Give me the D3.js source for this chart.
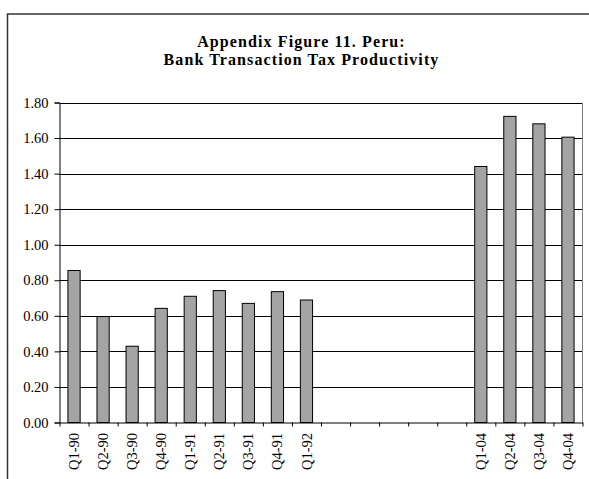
<!DOCTYPE html>
<html>
<head>
<meta charset="utf-8">
<script src="https://cdn.jsdelivr.net/npm/d3@7"></script>
<style>
  body { margin: 0; background: #fff; }
  text { font-family: "Liberation Serif", "Times New Roman", serif; fill: #000; }
</style>
</head>
<body>
<svg width="589" height="479"></svg>
<script>
// quarters, with empty slots for the years that have no data
var categories = ["Q1-90", "Q2-90", "Q3-90", "Q4-90", "Q1-91", "Q2-91", "Q3-91", "Q4-91", "Q1-92",
    "", "", "", "", "",
    "Q1-04", "Q2-04", "Q3-04", "Q4-04"];
var values = [0.855, 0.596, 0.429, 0.642, 0.710, 0.742, 0.670, 0.736, 0.689,
    null, null, null, null, null,
    1.440, 1.722, 1.680, 1.605];
var yTicks = [0, 0.2, 0.4, 0.6, 0.8, 1.0, 1.2, 1.4, 1.6, 1.8];
var titleLines = ["Appendix Figure 11. Peru:", "Bank Transaction Tax Productivity"];

var svg = d3.select("svg"),
    width = +svg.attr("width"),
    height = +svg.attr("height");

var plotL = 59.5, plotR = 582.5, plotT = 102.5, plotB = 422.5;

// outer frame, runs off the right and bottom edges
svg.append("rect")
    .attr("x", 7.5).attr("y", 14)
    .attr("width", 620).attr("height", 520)
    .attr("fill", "none")
    .attr("stroke", "#333")
    .attr("stroke-width", 1.5);

svg.append("g")
    .selectAll("text")
    .data(titleLines)
    .enter().append("text")
    .attr("x", 301.5)
    .attr("y", function (d, i) { return 46.5 + i * 18; })
    .attr("text-anchor", "middle")
    .style("font-size", "16px")
    .style("font-weight", "bold")
    .style("letter-spacing", "1.1px")
    .text(function (d) { return d; });

var x = d3.scaleBand()
    .domain(d3.range(categories.length))
    .range([plotL, plotR])
    .paddingInner(0.58)
    .paddingOuter(0.29);

var xEdge = d3.scaleLinear()
    .domain([0, categories.length])
    .range([plotL, plotR]);

var y = d3.scaleLinear()
    .domain([0, 1.8])
    .range([plotB, plotT]);

// grid lines
svg.append("g")
    .selectAll("line")
    .data(yTicks.slice(1))
    .enter().append("line")
    .attr("x1", plotL).attr("x2", plotR)
    .attr("y1", function (d) { return Math.round(y(d)) + 0.5; })
    .attr("y2", function (d) { return Math.round(y(d)) + 0.5; })
    .attr("stroke", "#000")
    .attr("stroke-width", 1);

// right side of plot area
svg.append("line")
    .attr("x1", plotR).attr("x2", plotR)
    .attr("y1", plotT).attr("y2", plotB)
    .attr("stroke", "#808080");

svg.append("g")
    .selectAll("rect")
    .data(values.map(function (v, i) { return { i: i, v: v }; })
        .filter(function (d) { return d.v !== null; }))
    .enter().append("rect")
    .attr("x", function (d) { return x(d.i); })
    .attr("y", function (d) { return y(d.v); })
    .attr("width", x.bandwidth())
    .attr("height", function (d) { return plotB - y(d.v); })
    .attr("fill", "#a4a4a4")
    .attr("stroke", "#000")
    .attr("stroke-width", 1);

var yAxis = svg.append("g")
    .attr("transform", "translate(" + plotL + ",0)")
    .attr("font-family", null)
    .call(d3.axisLeft(y)
        .tickValues(yTicks)
        .tickFormat(d3.format(".2f"))
        .tickSize(5)
        .tickPadding(6));
yAxis.attr("font-family", "Liberation Serif").attr("font-size", 14.5);
yAxis.select(".domain").attr("stroke", "#000");

var xAxis = svg.append("g")
    .attr("transform", "translate(0," + plotB + ")")
    .call(d3.axisBottom(xEdge)
        .tickValues(d3.range(categories.length + 1))
        .tickFormat("")
        .tickSize(4)
        .tickSizeOuter(0));

svg.append("g")
    .selectAll("text")
    .data(categories)
    .enter().append("text")
    .attr("transform", function (d, i) {
        return "translate(" + (x(i) + x.bandwidth() / 2) + "," + (plotB + 10.5) + ") rotate(-90)";
    })
    .attr("dy", "0.35em")
    .attr("text-anchor", "end")
    .style("font-size", "14.5px")
    .text(function (d) { return d; });
</script>
</body>
</html>
